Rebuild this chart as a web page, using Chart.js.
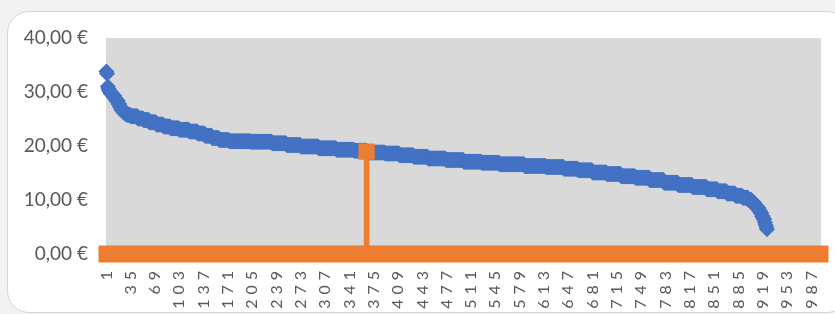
<!DOCTYPE html>
<html>
<head>
<meta charset="utf-8">
<script src="https://cdn.jsdelivr.net/npm/chart.js@4/dist/chart.umd.min.js"></script>
<style>
  html, body { margin: 0; padding: 0; background: #f2f2f2; }
  #card {
    position: absolute; left: 7px; top: 11px; width: 840px; height: 300px;
    background: #fff; border: 1px solid #d6d6d6; border-radius: 22px;
  }
  #chart { position: absolute; left: 0; top: 0; }
</style>
</head>
<body>
<div id="card"></div>
<canvas id="chart" width="835" height="314"></canvas>
<script>
// categories 1..1000
var categoryCount = 1000;
var xTickLabels = ['1','35','69','103','137','171','205','239','273','307','341','375','409','443','477',
                   '511','545','579','613','647','681','715','749','783','817','851','885','919','953','987'];
var yTickLabels = ['0,00 €', '10,00 €', '20,00 €', '30,00 €', '40,00 €'];

// blue series: value, number of points
var blueLevels = [33.8, 33.4, 31.0, 30.6, 30.2, 29.7, 29.3, 28.8, 28.4, 27.8, 27.2, 26.7, 26.2, 25.8, 25.5,
                  25.1, 24.8, 24.4, 24.0, 23.6, 23.3, 23.0, 22.7, 22.3, 21.9, 21.5, 21.1, 20.9, 20.8, 20.5,
                  20.2, 19.9, 19.6, 19.3, 19.1, 18.8, 18.6, 18.3, 18.0, 17.7, 17.4, 17.1, 16.9, 16.6, 16.3,
                  16.1, 15.8, 15.5, 15.1, 14.8, 14.4, 14.1, 13.7, 13.2, 12.8, 12.4, 12.0, 11.6, 11.2, 10.8,
                  10.4, 10.0, 9.5, 9.0, 8.5, 8.0, 7.6, 7.0, 6.5, 5.9, 5.4, 5.0, 4.6];
var blueCounts = [1, 1, 1, 1, 2, 3, 3, 2, 3, 2, 2, 3, 4, 6, 10,
                  8, 8, 10, 10, 10, 12, 14, 12, 10, 10, 10, 14, 30, 30, 20,
                  20, 25, 25, 25, 18, 25, 20, 20, 20, 25, 25, 25, 25, 35, 30,
                  25, 20, 20, 20, 20, 20, 20, 20, 20, 20, 20, 15, 13, 12, 10,
                  8, 5, 4, 3, 3, 2, 2, 2, 2, 1, 1, 1, 1];

// orange highlighted point
var orangeCategory = 365;
var orangeValue = 18.95;

var labels = [];
for (var i = 1; i <= categoryCount; i++) labels.push(String(i));

var blueData = [];
blueLevels.forEach(function(v, k) {
    for (var n = 0; n < blueCounts[k]; n++) blueData.push(v);
});

var orangeData = labels.map(function(l) { return Number(l) === orangeCategory ? orangeValue : null; });

// grey plot area and thick orange horizontal axis
var plotDecor = {
    id: 'plotDecor',
    beforeDraw: function(chart) {
        var a = chart.chartArea, ctx = chart.ctx;
        ctx.save();
        ctx.fillStyle = '#d9d9d9';
        ctx.fillRect(a.left, a.top, a.right - a.left, a.bottom - a.top);
        ctx.restore();
    },
    afterDatasetsDraw: function(chart) {
        var a = chart.chartArea, ctx = chart.ctx;
        var y0 = chart.scales.y.getPixelForValue(0);
        ctx.save();
        ctx.strokeStyle = '#ed7d31';
        ctx.lineWidth = 17;
        ctx.lineCap = 'square';
        ctx.beginPath();
        ctx.moveTo(a.left + 1, y0);
        ctx.lineTo(a.right - 1, y0);
        ctx.stroke();
        ctx.restore();
        // wide spacing of the rotated category labels
        ctx.letterSpacing = '5px';
    },
    afterDraw: function(chart) {
        chart.ctx.letterSpacing = '0px';
    }
};

new Chart(document.getElementById('chart'), {
    type: 'line',
    data: {
        labels: labels,
        datasets: [{
            data: orangeData,
            showLine: false,
            pointStyle: 'rect',
            pointRadius: 11.5,
            pointBackgroundColor: '#ed7d31',
            pointBorderWidth: 0,
            clip: false,
            order: 0
        }, {
            type: 'bar',
            data: orangeData,
            backgroundColor: '#ed7d31',
            barThickness: 5,
            order: 1
        }, {
            data: blueData,
            showLine: false,
            pointStyle: 'rectRot',
            pointRadius: 8,
            pointBackgroundColor: '#4472c4',
            pointBorderWidth: 0,
            clip: false,
            order: 2
        }]
    },
    options: {
        responsive: false,
        animation: false,
        layout: { padding: { top: 38, right: 14, left: 0, bottom: 0 } },
        plugins: {
            legend: { display: false },
            tooltip: { enabled: false }
        },
        scales: {
            x: {
                offset: true,
                grid: { display: false, drawTicks: false },
                border: { display: false },
                afterFit: function(scale) {
                    scale.height = 60;
                    scale.paddingLeft = 0;
                    scale.paddingRight = 0;
                },
                ticks: {
                    autoSkip: false,
                    minRotation: 90,
                    maxRotation: 90,
                    padding: 12,
                    z: 1,
                    color: '#595959',
                    font: { family: 'Lato', size: 16 },
                    callback: function(value, index) {
                        var l = labels[index];
                        return xTickLabels.indexOf(l) >= 0 ? l : null;
                    }
                }
            },
            y: {
                min: 0,
                max: 40,
                grid: { display: false, drawTicks: false },
                border: { display: false },
                afterFit: function(scale) {
                    scale.width = 106;
                    scale.paddingTop = 0;
                    scale.paddingBottom = 0;
                },
                ticks: {
                    stepSize: 10,
                    padding: 18,
                    color: '#595959',
                    font: { family: 'Lato', size: 19 },
                    callback: function(value) { return yTickLabels[value / 10]; }
                }
            }
        }
    },
    plugins: [plotDecor]
});
</script>
</body>
</html>
